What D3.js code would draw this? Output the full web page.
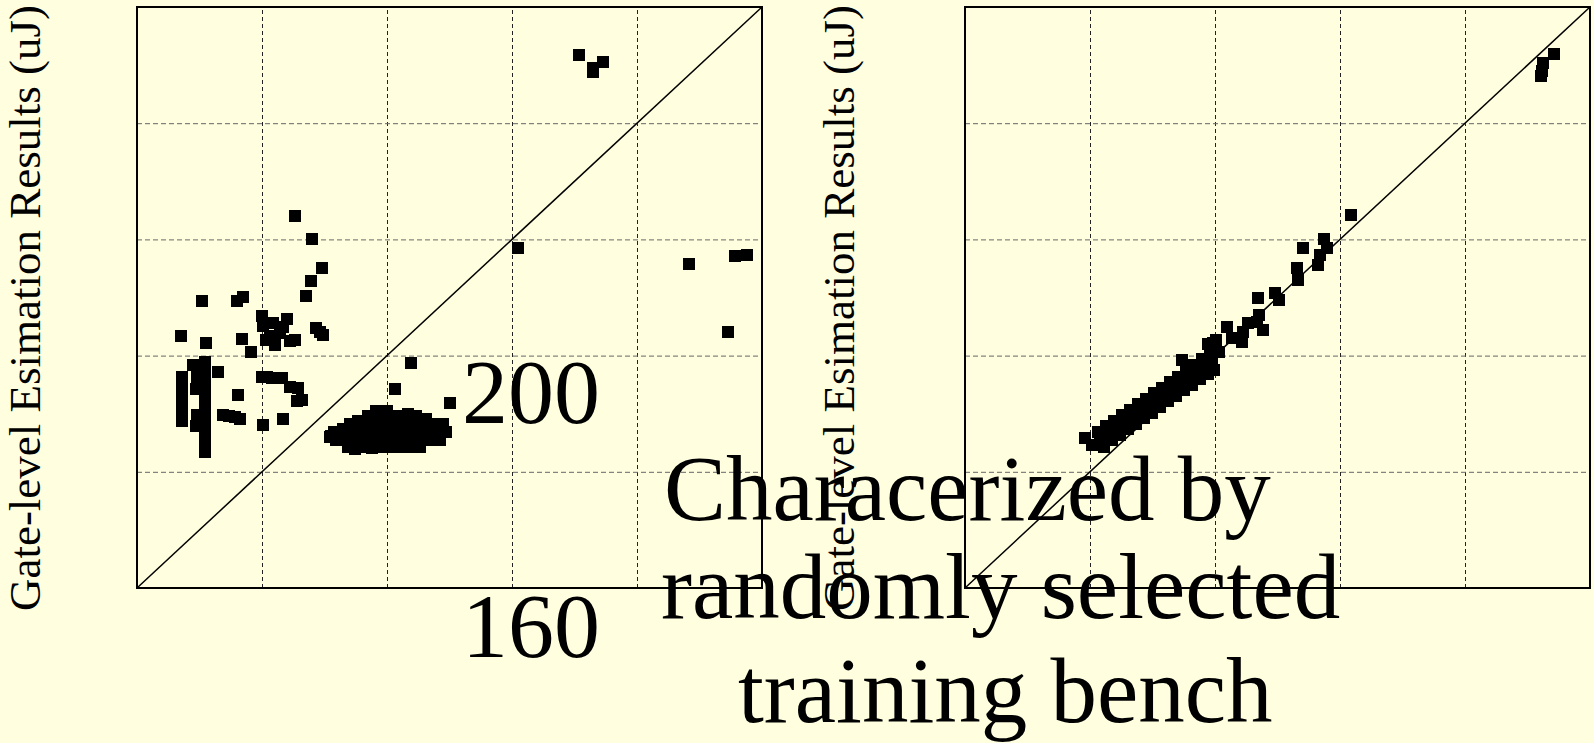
<!DOCTYPE html>
<html>
<head>
<meta charset="utf-8">
<script src="https://cdn.jsdelivr.net/npm/d3@7"></script>
<style>
  html, body { margin: 0; padding: 0; background: #ffffe0; }
  svg { display: block; }
  text { font-family: "Liberation Serif", "Times New Roman", serif; fill: #000; }
</style>
</head>
<body>
<div id="chart"></div>
<script>
// axis range (uJ) and grid ticks
var domain = [100, 200];
var gridTicks = [120, 140, 160, 180];

// left panel: estimation results vs gate-level
var leftScatter = [
  [125.2,164.1],[128.0,160.1],[129.6,155.0],[127.8,152.9],[127.0,150.3],
  [110.4,149.4],[116.0,149.4],[117.0,150.1],[120.0,146.8],[124.0,146.3],
  [107.0,143.3],[111.0,142.2],[116.8,142.8],[118.2,140.7],
  [120.2,145.1],[121.8,145.6],[123.4,144.9],[121.3,143.4],[122.9,143.9],
  [122.1,141.8],[124.5,142.5],[125.3,142.7],[120.6,142.7],
  [129.3,144.1],[129.8,143.5],[128.6,144.8],
  [113.0,137.2],[116.2,133.2],[113.8,129.8],[114.7,129.6],[115.7,129.4],[116.5,129.1],
  [120.0,136.4],[120.8,136.3],[121.6,136.1],[122.4,136.2],[123.2,136.1],
  [124.5,134.6],[125.8,134.4],[125.6,132.1],[126.4,132.4],[120.2,128.1],[123.4,129.1]
];
// two vertical stacks near the left edge
var leftBars = [
  [107.2,136.3],[107.2,135.4],[107.2,134.6],[107.2,133.7],[107.2,132.9],
  [107.2,132.0],[107.2,131.2],[107.2,130.3],[107.2,129.4],[107.2,128.7],
  [110.9,138.9],[110.9,137.8],[110.9,136.8],[110.9,135.8],[110.9,134.8],[110.9,133.7],
  [110.9,132.7],[110.9,131.6],[110.9,130.6],[110.9,129.6],[110.9,128.6],[110.9,127.5],
  [110.9,126.5],[110.9,125.4],[110.9,124.4],[110.9,123.4],
  [109.6,136.4],[109.4,134.2],[109.6,129.8],[109.0,138.4],[109.5,127.9]
];
var leftBlob = [
  [133.0,127.4],[135.4,128.7],[138.2,130.5],[140.0,130.5],[143.4,130.0],[146.2,129.1],[149.0,128.2],
  [137.0,129.6],[138.2,129.6],[139.5,129.6],[140.8,129.6],[142.1,129.6],[143.4,129.6],[144.6,129.6],
  [134.1,128.2],[135.4,128.2],[136.6,128.2],[137.9,128.2],[139.2,128.2],[140.5,128.2],
  [141.8,128.2],[143.0,128.2],[144.3,128.2],[145.6,128.2],[146.9,128.2],[148.2,128.2],
  [131.5,126.9],[132.8,126.9],[134.1,126.9],[135.4,126.9],[136.6,126.9],[137.9,126.9],
  [139.2,126.9],[140.5,126.9],[141.8,126.9],[143.0,126.9],[144.3,126.9],[145.6,126.9],
  [146.9,126.9],[148.2,126.9],[149.4,126.9],
  [131.8,125.5],[133.1,125.5],[134.4,125.5],[135.7,125.5],[137.0,125.5],[138.2,125.5],
  [139.5,125.5],[140.8,125.5],[142.1,125.5],[143.4,125.5],[144.6,125.5],[145.9,125.5],
  [147.2,125.5],[148.5,125.5],
  [133.8,124.3],[135.0,124.3],[136.3,124.3],[137.6,124.3],[138.9,124.3],[140.2,124.3],
  [141.4,124.3],[142.7,124.3],[144.0,124.3],[145.3,124.3],
  [134.9,123.9],[137.6,124.1],[140.2,124.6],[131.0,126.2],[130.9,126.0]
];
var leftOutliers = [
  [143.8,138.8],[141.3,134.2],[150.0,131.8],
  [170.7,191.7],[174.5,190.6],[172.9,189.5],[172.9,188.8],
  [160.9,158.5],[188.3,155.7],[195.7,157.2],[197.6,157.3],[194.6,144.0]
];

// right panel: characterized by randomly selected training bench
var rightTop = [[194.2,191.9],[192.5,190.3],[192.3,188.9],[192.2,188.1]];
var rightMid = [
  [161.7,164.2],[157.4,160.0],[157.9,158.5],[156.8,157.3],[156.4,155.6],
  [154.0,158.5],[153.1,155.0],[153.2,153.0],[146.8,150.0],[149.6,150.7],
  [150.3,149.6],[147.1,147.0],[147.7,144.4],[146.7,145.8],[145.2,145.6],
  [144.5,144.1],[144.3,142.4],[142.7,143.0],[141.9,145.0],[140.2,142.7],
  [140.7,140.7],[139.7,142.1]
];
var rightBand = [
  [120.3,124.6],[121.6,125.6],[122.9,126.5],[124.2,127.5],[125.4,128.4],[126.7,129.4],
  [128.0,130.3],[129.3,131.3],[130.6,132.2],[131.8,133.2],[133.1,134.1],[134.4,135.1],
  [135.7,136.0],[137.0,137.0],[138.2,137.9],[139.5,138.9],
  [121.3,126.9],[122.6,127.8],[123.8,128.8],[125.1,129.7],[126.4,130.7],[127.7,131.6],
  [129.0,132.6],[130.2,133.5],[131.5,134.5],[132.8,135.4],[134.1,136.4],[135.4,137.3],
  [136.6,138.3],[137.9,139.2],[139.2,140.2],[138.9,142.0],
  [122.2,124.3],[123.5,125.5],[124.8,126.4],[126.1,127.3],[127.4,128.3],[128.6,129.2],
  [129.9,130.2],[131.2,131.2],[132.5,132.1],[133.8,133.0],[135.0,134.0],[136.3,135.0],
  [137.6,135.9],[138.9,136.9],[139.8,137.6],
  [119.2,125.8],[134.7,139.2],[137.9,139.4],[139.5,141.0]
];

var yLabel = "Gate-level Esimation Results (uJ)";
var strayTicks = ["200", "160"];
var noteLines = ["Characerized by", "randomly selected", "training bench"];

(function(d3) {
var width = 1594, height = 743;
var pw = 625, ph = 581, panelTop = 7;
var ms = 12;

var svg = d3.select("#chart").append("svg")
    .attr("width", width)
    .attr("height", height);

svg.append("rect")
    .attr("width", width).attr("height", height)
    .attr("fill", "#ffffe0");

function panel(left, pts) {
  var x = d3.scaleLinear().domain(domain).range([0, pw]);
  var y = d3.scaleLinear().domain(domain).range([ph, 0]);
  var g = svg.append("g").attr("transform", "translate(" + left + "," + panelTop + ")");

  // vertical grid
  g.append("g")
      .attr("transform", "translate(0," + ph + ")")
      .call(d3.axisBottom(x).tickValues(gridTicks).tickSize(-ph).tickFormat(""))
      .call(function(a) {
        a.select(".domain").remove();
        a.selectAll("line").attr("stroke", "#222").attr("stroke-dasharray", "4,3");
      });
  // horizontal grid
  g.append("g")
      .call(d3.axisLeft(y).tickValues(gridTicks).tickSize(-pw).tickFormat(""))
      .call(function(a) {
        a.select(".domain").remove();
        a.selectAll("line").attr("stroke", "#666").attr("stroke-dasharray", "5,3");
      });

  // y = x reference
  g.append("line")
      .attr("x1", x(domain[0])).attr("y1", y(domain[0]))
      .attr("x2", x(domain[1])).attr("y2", y(domain[1]))
      .attr("stroke", "#000").attr("stroke-width", 1.5);

  g.selectAll("rect.pt")
      .data(pts)
      .enter().append("rect")
      .attr("class", "pt")
      .attr("x", function(d) { return x(d[0]) - ms / 2; })
      .attr("y", function(d) { return y(d[1]) - ms / 2; })
      .attr("width", ms).attr("height", ms)
      .attr("fill", "#000")
      .attr("shape-rendering", "crispEdges");

  g.append("rect")
      .attr("width", pw).attr("height", ph)
      .attr("fill", "none")
      .attr("stroke", "#000").attr("stroke-width", 2);
}

panel(137, leftScatter.concat(leftBars, leftBlob, leftOutliers));
panel(965, rightTop.concat(rightMid, rightBand));

// y axis titles
[40, 854].forEach(function(bx) {
  svg.append("text")
      .attr("transform", "translate(" + bx + ",308) rotate(-90)")
      .attr("text-anchor", "middle")
      .attr("font-size", "45px")
      .text(yLabel);
});

// large overlapping labels
svg.append("text").attr("x", 462).attr("y", 423).attr("font-size", "92px").text(strayTicks[0]);
svg.append("text").attr("x", 462).attr("y", 657).attr("font-size", "92px").text(strayTicks[1]);

var noteX = [664, 661, 738], noteY = [520, 618, 722];
noteLines.forEach(function(t, i) {
  svg.append("text")
      .attr("x", noteX[i]).attr("y", noteY[i])
      .attr("font-size", "93px")
      .text(t);
});
})(window.d3);
</script>
</body>
</html>
